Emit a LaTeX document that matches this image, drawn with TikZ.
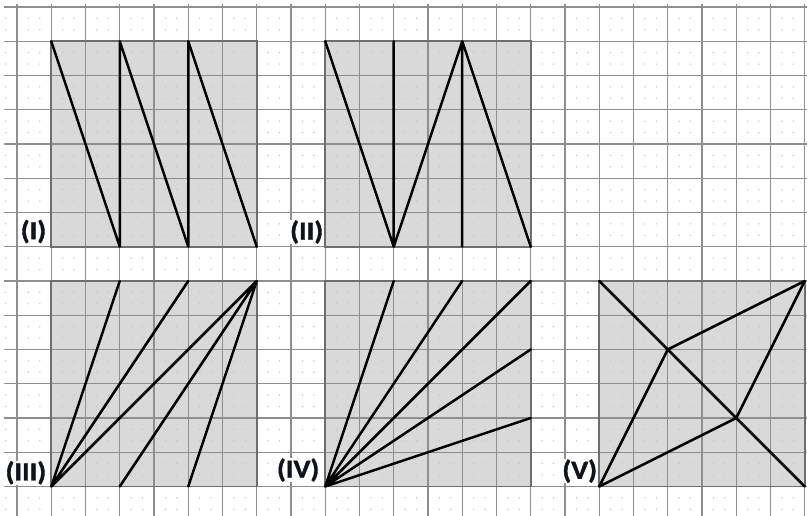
\documentclass[tikz,border=0pt]{standalone}
\usepackage{fontspec}
\newfontfamily\labfont{Carlito Bold}[FakeBold=1.3]
\definecolor{gridgray}{HTML}{8E8E8E}
\definecolor{sqfill}{HTML}{D9D9D9}
\definecolor{sqborder}{HTML}{6E6E6E}
\definecolor{dotgray}{HTML}{C4C4C4}
\definecolor{labink}{HTML}{10131C}
\begin{document}
\begin{tikzpicture}[x=34.25pt,y=-34.25pt,
  gridline/.style={draw=gridgray,line width=1.4pt},
  sqbox/.style={fill=sqfill},
  sqedge/.style={draw=sqborder,line width=1.8pt},
  seg/.style={draw=black,line width=2.5pt,line cap=round,line join=round},
  lab/.style={fill=white,text=labink,inner sep=0.6pt,anchor=east,font=\labfont\fontsize{26}{26}\selectfont}]
\useasboundingbox (-0.4964,-0.2044) rectangle (23.066,14.861);
\fill[white] (-0.4964,-0.2044) rectangle (23.066,14.861);
% squares fill
\foreach \x/\y in {1/1,9/1,1/8,9/8,17/8}
  \fill[sqbox] (\x,\y) rectangle ++(6,6);
% dots
\foreach \i in {-1,...,22}
  \foreach \j in {0,...,14}
    \foreach \a in {1,2}
      \foreach \b in {1,2}
        \fill[dotgray] (\i+\a/3,\j+\b/3) circle (0.75pt);
% grid
\foreach \j in {0,...,14}
  \draw[gridline] (-0.38,\j) -- (23.066,\j);
\foreach \i in {0,...,23}
  \draw[gridline] (\i,-0.0876) -- (\i,14.861);
% square borders
\foreach \x/\y in {1/1,9/1,1/8,9/8,17/8}
  \draw[sqedge] (\x,\y) rectangle ++(6,6);
% (I)
\coordinate (a1) at (1,1); \coordinate (a3) at (3,1); \coordinate (a5) at (5,1);
\coordinate (b3) at (3,7); \coordinate (b5) at (5,7); \coordinate (b7) at (7,7);
\draw[seg] (a1) -- (b3) (a3) -- (b3) (a3) -- (b5) (a5) -- (b5) (a5) -- (b7);
% (II)
\coordinate (c9) at (9,1); \coordinate (c11) at (11,1); \coordinate (c13) at (13,1);
\coordinate (d11) at (11,7); \coordinate (d13) at (13,7); \coordinate (d15) at (15,7);
\draw[seg] (c9) -- (d11) (c11) -- (d11) (d11) -- (c13) (c13) -- (d13) (c13) -- (d15);
% (III)
\coordinate (e1) at (1,14); \coordinate (f7) at (7,8);
\coordinate (f3) at (3,8); \coordinate (f5) at (5,8);
\coordinate (e3) at (3,14); \coordinate (e5) at (5,14);
\draw[seg] (e1) -- (f3) (e1) -- (f5) (e1) -- (f7) (f7) -- (e3) (f7) -- (e5);
% (IV)
\coordinate (g9) at (9,14); \coordinate (h11) at (11,8); \coordinate (h13) at (13,8);
\coordinate (h15) at (15,8); \coordinate (h15b) at (15,10); \coordinate (h15c) at (15,12);
\draw[seg] (g9) -- (h11) (g9) -- (h13) (g9) -- (h15) (g9) -- (h15b) (g9) -- (h15c);
% (V)
\coordinate (vtl) at (17,8); \coordinate (vbr) at (23,14);
\coordinate (vbl) at (17,14); \coordinate (vtr) at (23,8);
\coordinate (vp) at (19,10); \coordinate (vq) at (21,12);
\draw[seg] (vtl) -- (vbr) (vbl) -- (vp) -- (vtr) -- (vq) -- (vbl);
% labels
\node[lab] (lI) at (0.876,6.555) {\scalebox{1.1}[1]{(I)}};
\node[lab] (lII) at (8.964,6.57) {\scalebox{1.1}[1]{(II)}};
\node[lab] (lIII) at (0.876,13.6) {\scalebox{1.1}[1]{(III)}};
\node[lab] (lIV) at (8.85,13.52) {\scalebox{1.1}[1]{(IV)}};
\node[lab] (lV) at (16.96,13.55) {\scalebox{1.1}[1]{(V)}};
\end{tikzpicture}
\end{document}
